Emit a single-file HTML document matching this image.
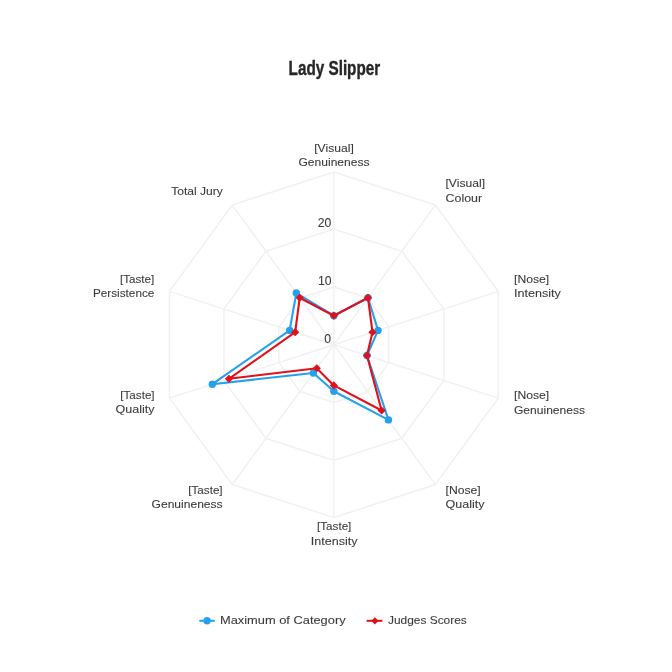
<!DOCTYPE html>
<html><head><meta charset="utf-8"><style>
html,body{margin:0;padding:0;background:#fff;width:672px;height:672px;overflow:hidden}
svg{display:block;will-change:transform}
text{font-family:"Liberation Sans",sans-serif;fill:#3c3c3c;stroke:#3c3c3c;stroke-width:0.1px}
</style></head><body>
<svg width="672" height="672" viewBox="0 0 672 672">
<polygon points="333.84,286.94 367.81,297.98 388.81,326.88 388.81,362.60 367.81,391.50 333.84,402.54 299.87,391.50 278.87,362.60 278.87,326.88 299.87,297.98" fill="none" stroke="#f1f1f1" stroke-width="1.5"/>
<polygon points="333.84,229.14 401.79,251.22 443.78,309.02 443.78,380.46 401.79,438.26 333.84,460.34 265.89,438.26 223.90,380.46 223.90,309.02 265.89,251.22" fill="none" stroke="#f1f1f1" stroke-width="1.5"/>
<polygon points="333.84,171.94 435.41,204.94 498.18,291.34 498.18,398.14 435.41,484.54 333.84,517.54 232.27,484.54 169.50,398.14 169.50,291.34 232.27,204.94" fill="none" stroke="#f1f1f1" stroke-width="1.5"/>
<line x1="333.84" y1="344.74" x2="333.84" y2="171.94" stroke="#f1f1f1" stroke-width="1.5"/>
<line x1="333.84" y1="344.74" x2="435.41" y2="204.94" stroke="#f1f1f1" stroke-width="1.5"/>
<line x1="333.84" y1="344.74" x2="498.18" y2="291.34" stroke="#f1f1f1" stroke-width="1.5"/>
<line x1="333.84" y1="344.74" x2="498.18" y2="398.14" stroke="#f1f1f1" stroke-width="1.5"/>
<line x1="333.84" y1="344.74" x2="435.41" y2="484.54" stroke="#f1f1f1" stroke-width="1.5"/>
<line x1="333.84" y1="344.74" x2="333.84" y2="517.54" stroke="#f1f1f1" stroke-width="1.5"/>
<line x1="333.84" y1="344.74" x2="232.27" y2="484.54" stroke="#f1f1f1" stroke-width="1.5"/>
<line x1="333.84" y1="344.74" x2="169.50" y2="398.14" stroke="#f1f1f1" stroke-width="1.5"/>
<line x1="333.84" y1="344.74" x2="169.50" y2="291.34" stroke="#f1f1f1" stroke-width="1.5"/>
<line x1="333.84" y1="344.74" x2="232.27" y2="204.94" stroke="#f1f1f1" stroke-width="1.5"/>
<polygon points="333.84,315.70 367.97,297.76 378.02,330.38 366.98,355.51 388.45,419.91 333.84,391.20 313.36,372.93 212.34,384.22 289.66,330.38 296.29,293.06" fill="none" stroke="#24a0ee" stroke-width="2.1" stroke-linejoin="round"/>
<circle cx="333.84" cy="315.70" r="3.7" fill="#24a0ee"/>
<circle cx="367.97" cy="297.76" r="3.7" fill="#24a0ee"/>
<circle cx="378.02" cy="330.38" r="3.7" fill="#24a0ee"/>
<circle cx="366.98" cy="355.51" r="3.7" fill="#24a0ee"/>
<circle cx="388.45" cy="419.91" r="3.7" fill="#24a0ee"/>
<circle cx="333.84" cy="391.20" r="3.7" fill="#24a0ee"/>
<circle cx="313.36" cy="372.93" r="3.7" fill="#24a0ee"/>
<circle cx="212.34" cy="384.22" r="3.7" fill="#24a0ee"/>
<circle cx="289.66" cy="330.38" r="3.7" fill="#24a0ee"/>
<circle cx="296.29" cy="293.06" r="3.7" fill="#24a0ee"/>
<polygon points="333.84,315.70 367.97,297.76 372.50,332.18 366.98,355.51 381.63,410.51 333.84,385.39 316.77,368.23 228.91,378.83 295.18,332.18 299.71,297.76" fill="none" stroke="#e0101c" stroke-width="2.1" stroke-linejoin="round"/>
<path d="M333.84,311.60 L337.94,315.70 L333.84,319.81 L329.74,315.70Z" fill="#e0101c"/>
<path d="M367.97,293.66 L372.07,297.76 L367.97,301.86 L363.87,297.76Z" fill="#e0101c"/>
<path d="M372.50,328.08 L376.60,332.18 L372.50,336.28 L368.40,332.18Z" fill="#e0101c"/>
<path d="M366.98,351.41 L371.08,355.51 L366.98,359.61 L362.88,355.51Z" fill="#e0101c"/>
<path d="M381.63,406.41 L385.73,410.51 L381.63,414.61 L377.53,410.51Z" fill="#e0101c"/>
<path d="M333.84,381.29 L337.94,385.39 L333.84,389.49 L329.74,385.39Z" fill="#e0101c"/>
<path d="M316.77,364.13 L320.87,368.23 L316.77,372.33 L312.67,368.23Z" fill="#e0101c"/>
<path d="M228.91,374.73 L233.01,378.83 L228.91,382.93 L224.81,378.83Z" fill="#e0101c"/>
<path d="M295.18,328.08 L299.28,332.18 L295.18,336.28 L291.08,332.18Z" fill="#e0101c"/>
<path d="M299.71,293.66 L303.81,297.76 L299.71,301.86 L295.61,297.76Z" fill="#e0101c"/>
<text x="331.2" y="226.7" text-anchor="end" font-size="12.2">20</text>
<text x="331.5" y="284.7" text-anchor="end" font-size="12.2">10</text>
<text x="331.0" y="342.8" text-anchor="end" font-size="12.2">0</text>
<text x="334.0" y="151.7" text-anchor="middle" textLength="39.5" lengthAdjust="spacingAndGlyphs" font-size="11.6">[Visual]</text>
<text x="334.0" y="166.3" text-anchor="middle" textLength="71.0" lengthAdjust="spacingAndGlyphs" font-size="11.6">Genuineness</text>
<text x="445.5" y="187.3" text-anchor="start" textLength="39.5" lengthAdjust="spacingAndGlyphs" font-size="11.6">[Visual]</text>
<text x="445.5" y="202.2" text-anchor="start" textLength="36.6" lengthAdjust="spacingAndGlyphs" font-size="11.6">Colour</text>
<text x="514.0" y="282.5" text-anchor="start" textLength="35.2" lengthAdjust="spacingAndGlyphs" font-size="11.6">[Nose]</text>
<text x="514.0" y="297.3" text-anchor="start" textLength="46.8" lengthAdjust="spacingAndGlyphs" font-size="11.6">Intensity</text>
<text x="514.0" y="399.0" text-anchor="start" textLength="35.2" lengthAdjust="spacingAndGlyphs" font-size="11.6">[Nose]</text>
<text x="514.0" y="413.5" text-anchor="start" textLength="71.0" lengthAdjust="spacingAndGlyphs" font-size="11.6">Genuineness</text>
<text x="445.5" y="493.8" text-anchor="start" textLength="35.2" lengthAdjust="spacingAndGlyphs" font-size="11.6">[Nose]</text>
<text x="445.5" y="508.3" text-anchor="start" textLength="39.0" lengthAdjust="spacingAndGlyphs" font-size="11.6">Quality</text>
<text x="334.2" y="529.8" text-anchor="middle" textLength="34.3" lengthAdjust="spacingAndGlyphs" font-size="11.6">[Taste]</text>
<text x="334.2" y="544.7" text-anchor="middle" textLength="46.8" lengthAdjust="spacingAndGlyphs" font-size="11.6">Intensity</text>
<text x="222.6" y="493.7" text-anchor="end" textLength="34.3" lengthAdjust="spacingAndGlyphs" font-size="11.6">[Taste]</text>
<text x="222.6" y="508.3" text-anchor="end" textLength="71.0" lengthAdjust="spacingAndGlyphs" font-size="11.6">Genuineness</text>
<text x="154.6" y="398.6" text-anchor="end" textLength="34.3" lengthAdjust="spacingAndGlyphs" font-size="11.6">[Taste]</text>
<text x="154.6" y="413.2" text-anchor="end" textLength="39.0" lengthAdjust="spacingAndGlyphs" font-size="11.6">Quality</text>
<text x="154.3" y="282.6" text-anchor="end" textLength="34.3" lengthAdjust="spacingAndGlyphs" font-size="11.6">[Taste]</text>
<text x="154.3" y="297.3" text-anchor="end" textLength="61.3" lengthAdjust="spacingAndGlyphs" font-size="11.6">Persistence</text>
<text x="222.8" y="195.2" text-anchor="end" textLength="51.6" lengthAdjust="spacingAndGlyphs" font-size="11.6">Total Jury</text>
<text x="288.6" y="74.9" font-size="19.3" font-weight="bold" style="fill:#262626;stroke:#262626;stroke-width:0.35px" textLength="91.6" lengthAdjust="spacingAndGlyphs">Lady Slipper</text>
<line x1="199.3" y1="620.8" x2="214.8" y2="620.8" stroke="#24a0ee" stroke-width="2"/>
<circle cx="207.05" cy="620.8" r="3.7" fill="#24a0ee"/>
<text x="220.0" y="624.4" text-anchor="start" textLength="125.6" lengthAdjust="spacingAndGlyphs" font-size="11.6">Maximum of Category</text>
<line x1="366.6" y1="620.8" x2="382.4" y2="620.8" stroke="#e0101c" stroke-width="2"/>
<path d="M374.9,617.1999999999999 L378.5,620.8 L374.9,624.4 L371.29999999999995,620.8Z" fill="#e0101c"/>
<text x="388.0" y="624.4" text-anchor="start" textLength="78.8" lengthAdjust="spacingAndGlyphs" font-size="11.6">Judges Scores</text>
</svg>
</body></html>
